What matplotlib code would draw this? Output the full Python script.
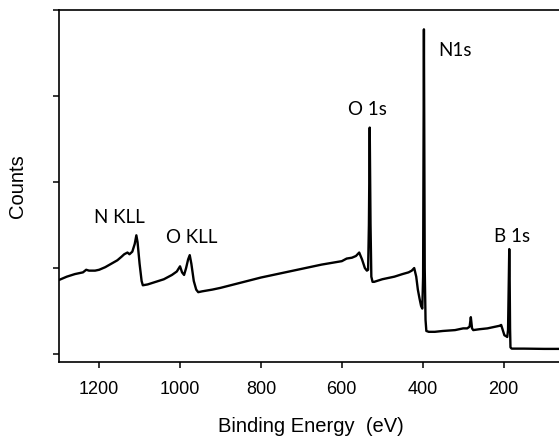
import matplotlib
matplotlib.use('Agg')
import matplotlib.pyplot as plt

# survey spectrum (binding energy in eV, counts in arb. units)
energy = [
    1300, 1280, 1260, 1240, 1232, 1225, 1210, 1200, 1185, 1170, 1155, 1145,
    1138, 1130, 1125, 1118, 1112, 1108, 1105, 1100, 1095, 1092, 1080, 1060,
    1040, 1020, 1008, 1000, 995, 990, 985, 980, 976, 972, 966, 960, 955, 945,
    920, 900, 850, 800, 750, 700, 650, 600, 588, 575, 565, 557, 550, 543, 538,
    535, 533, 531, 529, 527, 524, 520, 500, 470, 450, 435, 427, 421, 416, 412,
    408, 404, 401, 399, 397, 395, 393, 391, 385, 370, 350, 320, 300, 290, 284,
    281, 278, 275, 260, 240, 220, 210, 206, 202, 198, 194, 191, 189, 187, 186,
    185, 184, 183, 180, 150, 100, 60,
]
counts = [
    0.86, 0.90, 0.93, 0.95, 0.98, 0.97, 0.97, 0.98, 1.01, 1.05, 1.09, 1.13,
    1.16, 1.18, 1.16, 1.19, 1.28, 1.38, 1.30, 1.05, 0.85, 0.80, 0.81, 0.84,
    0.87, 0.92, 0.96, 1.02, 0.95, 0.92, 1.00, 1.10, 1.15, 1.05, 0.85, 0.75,
    0.72, 0.73, 0.75, 0.77, 0.83, 0.89, 0.94, 0.99, 1.04, 1.08, 1.11, 1.12,
    1.14, 1.18, 1.10, 1.00, 0.97, 0.98, 1.50, 2.63, 1.50, 0.90, 0.84, 0.84,
    0.87, 0.90, 0.93, 0.95, 0.97, 1.00, 0.90, 0.75, 0.65, 0.56, 0.53, 0.90,
    3.77, 1.00, 0.40, 0.27, 0.26, 0.26, 0.27, 0.28, 0.30, 0.30, 0.32, 0.43,
    0.30, 0.28, 0.29, 0.30, 0.32, 0.33, 0.34, 0.28, 0.22, 0.21, 0.20, 0.28,
    0.90, 1.22, 0.90, 0.30, 0.08, 0.065, 0.065, 0.062, 0.062,
]

peak_labels = ['N KLL', 'O KLL', 'O 1s', 'N1s', 'B 1s']
label_x = [1150, 971, 537, 320, 178]
label_y = [1.59, 1.35, 2.84, 3.53, 1.37]

fig = plt.figure(figsize=(5.59, 4.40), dpi=100)
ax = fig.add_axes([0.105, 0.1773, 0.895, 0.8011])

ax.plot(energy, counts, color='black', linewidth=1.7)

for lab, x, y in zip(peak_labels, label_x, label_y):
    ax.text(x, y, lab, ha='center', va='center', fontsize=13.5,
            family=['Lato', 'DejaVu Sans'])

ax.set_xlim(1300, 63)
ax.set_ylim(-0.09, 4.0)
ax.set_xticks([1200, 1000, 800, 600, 400, 200])
ax.set_yticks([0, 1, 2, 3, 4])
ax.set_yticklabels([])
ax.tick_params(axis='both', direction='out', length=4, width=1.1,
               labelsize=13, pad=10)
for lab in ax.get_xticklabels():
    lab.set_family('Liberation Sans')

ax.spines['right'].set_visible(False)
for side in ['top', 'left', 'bottom']:
    ax.spines[side].set_linewidth(1.2)

ax.set_xlabel('Binding Energy  (eV)', fontsize=14.5, family='Liberation Sans')
ax.set_ylabel('Counts', fontsize=14.5, family='Liberation Sans')
ax.xaxis.set_label_coords(0.505, -0.155)
ax.yaxis.set_label_coords(-0.064, 0.50)

fig.savefig('out.png', dpi=100)
